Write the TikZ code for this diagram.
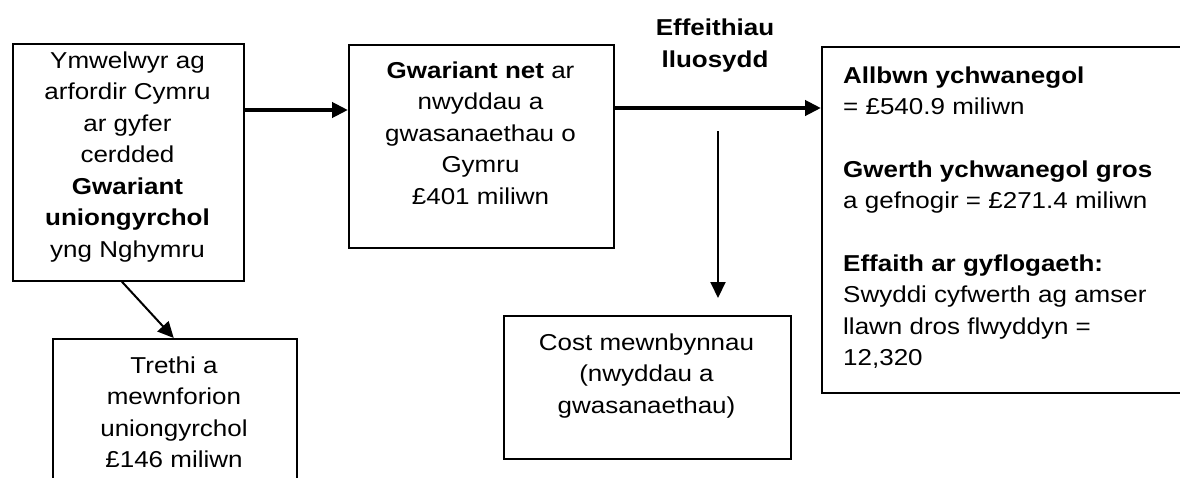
\documentclass[tikz,border=0pt]{standalone}
\usepackage{fontspec}
\setmainfont{Liberation Sans}[FakeStretch=1.13]
\usetikzlibrary{arrows.meta}
\newcommand\tp{\rule{0pt}{18pt}}
\tikzset{
  box/.style={draw=black, line width=1.5pt, rectangle, inner sep=0pt, anchor=north west},
  txt/.style={inner sep=0pt, font=\fontsize{23}{31.5}\selectfont, text=black},
  bigarrow/.style={line width=4pt, -{Triangle[length=16pt,width=15pt]}},
  thinarrow/.style={line width=2pt, -{Triangle[length=16pt,width=15pt]}},
}
\begin{document}
\begin{tikzpicture}[x=1pt,y=-1pt]
\useasboundingbox (0,0) rectangle (1180,477);
\clip (0,0) rectangle (1180,477);
\fill[white] (0,0) rectangle (1180,477);
% boxes
\node[box, minimum width=231pt, minimum height=237pt] (b1) at (12,43) {};
\node[box, minimum width=265pt, minimum height=203pt] (b2) at (348,44) {};
\node[box, minimum width=420pt, minimum height=346pt] (b3) at (821,46) {};
\node[box, minimum width=287pt, minimum height=143pt] (b4) at (503,315) {};
\node[box, minimum width=244pt, minimum height=200pt] (b5) at (52,338) {};
% texts
\node[txt, align=center, anchor=north] (t1) at (127.5,50)
  {\tp Ymwelwyr ag\\arfordir Cymru\\ar gyfer\\cerdded\\\textbf{Gwariant}\\\textbf{uniongyrchol}\\yng Nghymru};
\node[txt, align=center, anchor=north] (t2) at (480.5,60)
  {\tp\textbf{Gwariant net} ar\\nwyddau a\\gwasanaethau o\\Gymru\\£401 miliwn};
\node[txt, align=left, anchor=north west] (t3) at (843,65)
  {\tp\textbf{Allbwn ychwanegol}\\= £540.9 miliwn\\[31pt]\textbf{Gwerth ychwanegol gros}\\a gefnogir = £271.4 miliwn\\[31pt]\textbf{Effaith ar gyflogaeth:}\\Swyddi cyfwerth ag amser\\llawn dros flwyddyn =\\12,320};
\node[txt, align=center, anchor=north] (t4) at (646.5,332)
  {\tp Cost mewnbynnau\\(nwyddau a\\gwasanaethau)};
\node[txt, align=center, anchor=north] (t5) at (174,355)
  {\tp Trethi a\\mewnforion\\uniongyrchol\\£146 miliwn};
\node[txt, align=center, anchor=north, font=\fontsize{23}{32}\selectfont\bfseries] (lab) at (715,17)
  {\tp Effeithiau\\lluosydd};
% connectors
\draw[bigarrow] ([yshift=-67pt]b1.north east) -- ([yshift=-67pt]b1.north east -| b2.west);
\draw[bigarrow] ([yshift=-64pt]b2.north east) -- ([yshift=-64pt]b2.north east -| b3.west);
\coordinate (v0) at (718,131);
\coordinate (v1) at (718,298);
\draw[thinarrow] (v0) -- (v1);
\draw[thinarrow] ([xshift=-6.5pt]b1.south) -- ([xshift=-1pt]b5.north);
\end{tikzpicture}
\end{document}
